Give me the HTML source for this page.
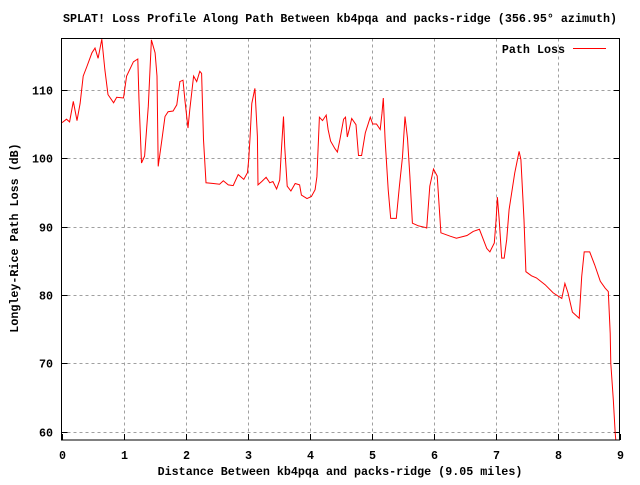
<!DOCTYPE html>
<html><head><meta charset="utf-8"><style>
body{margin:0;background:#fff}
svg text{font-family:"Liberation Mono",monospace;font-size:11.7px;font-weight:bold;fill:#000}
</style></head><body>
<svg id="chart" width="640" height="480" xmlns="http://www.w3.org/2000/svg">
<rect width="640" height="480" fill="#fff"/>
<text x="340" y="22" text-anchor="middle">SPLAT! Loss Profile Along Path Between kb4pqa and packs-ridge (356.95° azimuth)</text>
<text x="340" y="475" text-anchor="middle">Distance Between kb4pqa and packs-ridge (9.05 miles)</text>
<text transform="translate(18,238) rotate(-90)" text-anchor="middle">Longley-Rice Path Loss (dB)</text>
<g id="grid"></g>
<g id="ticks"></g>
<polyline id="series" fill="none" stroke="#f00" stroke-width="1"/>
<rect x="61.5" y="38.5" width="558" height="401.5" fill="none" stroke="#000" stroke-width="1"/>
<text x="565" y="53" text-anchor="end">Path Loss</text>
<line x1="573" y1="48.5" x2="606" y2="48.5" stroke="#f00" stroke-width="1"/>
</svg>
<script>
const xTicks=[0,1,2,3,4,5,6,7,8,9];
const yTicks=[60,70,80,90,100,110];
const dist=[0.01,0.08,0.13,0.19,0.25,0.30,0.35,0.41,0.49,0.54,0.59,0.65,0.70,0.75,0.84,0.89,1.0,1.05,1.16,1.23,1.25,1.29,1.34,1.40,1.45,1.51,1.54,1.56,1.62,1.67,1.72,1.80,1.86,1.91,1.96,1.99,2.04,2.07,2.13,2.18,2.23,2.26,2.29,2.33,2.45,2.55,2.61,2.69,2.77,2.85,2.94,3.0,3.02,3.04,3.07,3.12,3.16,3.17,3.23,3.30,3.36,3.41,3.47,3.52,3.55,3.58,3.60,3.64,3.70,3.77,3.84,3.87,3.96,4.03,4.09,4.12,4.16,4.21,4.27,4.30,4.34,4.41,4.45,4.49,4.55,4.58,4.61,4.64,4.68,4.75,4.79,4.84,4.90,4.98,5.02,5.08,5.14,5.17,5.19,5.22,5.27,5.31,5.40,5.45,5.50,5.54,5.58,5.62,5.66,5.76,5.86,5.89,5.94,6.0,6.06,6.12,6.27,6.37,6.54,6.64,6.74,6.86,6.91,6.98,7.01,7.03,7.06,7.10,7.14,7.18,7.22,7.31,7.38,7.41,7.46,7.49,7.58,7.66,7.80,7.93,8.07,8.12,8.17,8.24,8.35,8.39,8.43,8.52,8.60,8.69,8.77,8.82,8.85,8.86,8.90,8.93,8.94];
const loss=[105.2,105.7,105.3,108.3,105.5,108.0,112.0,113.4,115.4,116.1,114.6,117.4,112.9,109.3,108.1,108.9,108.8,112.0,114.1,114.5,108.5,99.3,100.3,107.6,117.3,115.4,112.0,98.8,102.7,106.1,106.8,106.9,107.8,111.2,111.4,108.5,104.4,107.1,112.0,111.2,112.7,112.4,102.7,96.4,96.3,96.2,96.7,96.1,96.0,97.6,96.9,97.9,99.8,102.9,108.0,110.2,103.2,96.1,96.6,97.2,96.4,96.6,95.5,96.8,101.7,106.1,101.7,95.9,95.2,96.3,96.1,94.6,94.1,94.4,95.4,97.3,106.0,105.5,106.3,104.2,102.5,101.4,100.9,102.7,105.7,106.0,103.1,104.2,105.8,104.9,100.4,100.4,103.7,106.0,105.0,105.0,104.2,106.6,108.8,102.7,95.4,91.2,91.2,95.9,100.2,106.1,102.9,97.3,90.5,90.1,89.9,89.8,95.9,98.4,97.4,89.1,88.6,88.3,88.7,89.3,89.6,86.8,86.3,87.6,91.0,94.3,91.0,85.4,85.4,88.1,92.5,97.8,101.0,99.8,91.0,83.4,82.8,82.5,81.5,80.3,79.5,81.7,80.3,77.5,76.6,82.7,86.3,86.3,84.4,82.0,81.0,80.5,74.4,70.0,64.7,59.8,58.8];
const X0=61.5,X1=619.5,XMAX=9;
const YMIN=58.8,YMAX=117.5,YB=440,YT=38.5;
const xs=d=>X0+(X1-X0)*d/XMAX;
const ys=v=>YB-(YB-YT)*(v-YMIN)/(YMAX-YMIN);
const NS="http://www.w3.org/2000/svg";
const grid=document.getElementById('grid'),ticks=document.getElementById('ticks');
function mk(tag,attrs,parent){const e=document.createElementNS(NS,tag);for(const k in attrs)e.setAttribute(k,attrs[k]);parent.appendChild(e);return e;}
xTicks.forEach(t=>{
  const x=Math.round(xs(t))+0.5;
  if(t>0&&t<9){const g=mk('line',{x1:x,y1:YT,x2:x,y2:YB,stroke:'#a0a0a0','stroke-dasharray':'3,3'},grid);
  
  }
  const l=mk('line',{x1:x,y1:YB,x2:x,y2:YB-6,stroke:'#000'},ticks);
  
  
  const tx=mk('text',{x:x,y:459,'text-anchor':'middle'},ticks);tx.textContent=t;
  
  
});
yTicks.forEach(t=>{
  const y=Math.round(ys(t))+0.5;
  const g=mk('line',{x1:X0,y1:y,x2:X1,y2:y,stroke:'#a0a0a0','stroke-dasharray':'3,3'},grid);
  
  
  const l=mk('line',{x1:X0,y1:y,x2:X0+6,y2:y,stroke:'#000'},ticks);
  
  
  const r=mk('line',{x1:X1-6,y1:y,x2:X1,y2:y,stroke:'#000'},ticks);
  
  
  const tx=mk('text',{x:53,y:y+4,'text-anchor':'end'},ticks);tx.textContent=t;
  
  
});
document.getElementById('series').setAttribute('points',dist.map((d,i)=>xs(d).toFixed(1)+','+ys(loss[i]).toFixed(1)).join(' '));
</script>
</body></html>
